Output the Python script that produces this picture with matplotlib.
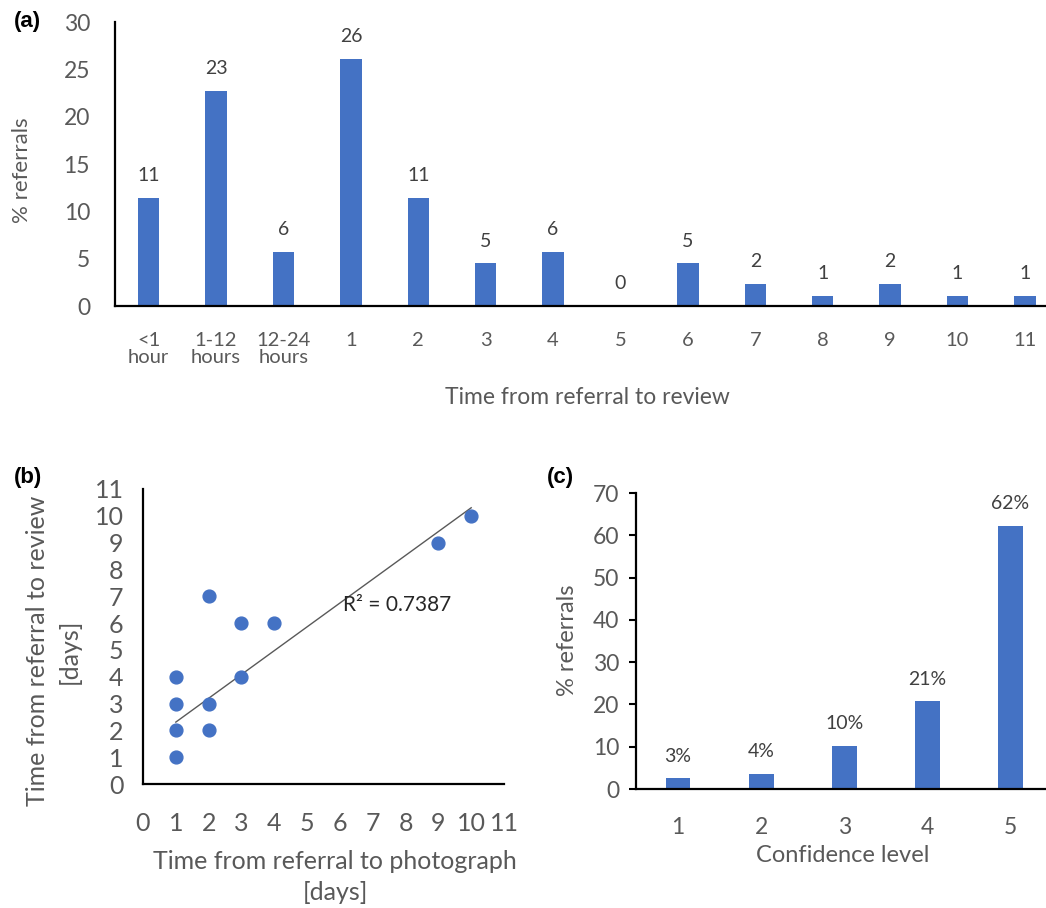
import numpy as np
import matplotlib
matplotlib.use("Agg")
import matplotlib.pyplot as plt

# ---------------------------------------------------------------------------
# Data
# ---------------------------------------------------------------------------
REVIEW_CATS = ["<1\nhour", "1-12\nhours", "12-24\nhours", "1", "2", "3", "4",
               "5", "6", "7", "8", "9", "10", "11"]
REVIEW_PCT = [11.4, 22.7, 5.7, 26.1, 11.4, 4.5, 5.7, 0.0, 4.5, 2.3, 1.1, 2.3, 1.1, 1.1]
REVIEW_LABELS = ["11", "23", "6", "26", "11", "5", "6", "0", "5", "2", "1", "2", "1", "1"]

PHOTO_DAYS = [1, 1, 1, 1, 2, 2, 2, 3, 3, 4, 9, 10]
REVIEW_DAYS = [1, 2, 3, 4, 2, 3, 7, 4, 6, 6, 9, 10]
TREND_SLOPE = 0.888
TREND_INTERCEPT = 1.42
TREND_RANGE = [1, 10]
R2_TEXT = "R² = 0.7387"

CONF_LEVELS = ["1", "2", "3", "4", "5"]
CONF_PCT = [2.5, 3.6, 10.2, 20.7, 62.3]
CONF_LABELS = ["3%", "4%", "10%", "21%", "62%"]

# ---------------------------------------------------------------------------
# Style
# ---------------------------------------------------------------------------
BAR_COLOR = "#4472C4"
TICK_COLOR = "#595959"
LABEL_COLOR = "#404040"
W, H = 1046, 908

plt.rcParams["font.family"] = ["Lato", "DejaVu Sans"]

fig = plt.figure(figsize=(W / 100, H / 100), dpi=100)


def px_axes(l, t, r, b):
    """Add axes from pixel box (left, top, right, bottom)."""
    return fig.add_axes([l / W, 1 - b / H, (r - l) / W, (b - t) / H])


def px_text(x, y, s, **kw):
    return fig.text(x / W, 1 - y / H, s, **kw)


def excel_axes(ax):
    for side in ("top", "right"):
        ax.spines[side].set_visible(False)
    for side in ("left", "bottom"):
        ax.spines[side].set_linewidth(1.6)
        ax.spines[side].set_color("black")


# ---------------------------------------------------------------------------
# (a) time from referral to review
# ---------------------------------------------------------------------------
ax_a = px_axes(115, 22, 1046, 306)
excel_axes(ax_a)
x = np.arange(len(REVIEW_CATS))
ax_a.bar(x, REVIEW_PCT, width=0.32, color=BAR_COLOR)
for xi, v, lab in zip(x, REVIEW_PCT, REVIEW_LABELS):
    ax_a.annotate(lab, (xi, v), xytext=(0, 10), textcoords="offset points",
                  ha="center", va="bottom", fontsize=14, color=LABEL_COLOR)
ax_a.set_ylim(0, 30)
ax_a.set_xlim(-0.5, -0.5 + (1046 - 115) / 67.4)
ax_a.set_yticks(range(0, 31, 5))
ax_a.set_xticks(x)
ax_a.set_xticklabels(REVIEW_CATS, linespacing=1.0)
ax_a.tick_params(axis="y", length=0, pad=18, labelsize=16.5, labelcolor=TICK_COLOR)
ax_a.tick_params(axis="x", length=0, pad=19, labelsize=14.5, labelcolor=TICK_COLOR)
px_text(22, 170, "% referrals", rotation=90, ha="center", va="center",
        fontsize=16, color=TICK_COLOR)
px_text(587, 398, "Time from referral to review", ha="center", va="center",
        fontsize=16.5, color=TICK_COLOR)

# ---------------------------------------------------------------------------
# (b) photograph vs review scatter
# ---------------------------------------------------------------------------
ax_b = px_axes(143, 489, 504, 784)
excel_axes(ax_b)
ax_b.scatter(PHOTO_DAYS, REVIEW_DAYS, s=85, color=BAR_COLOR, zorder=3)
tx = np.array(TREND_RANGE, dtype=float)
ax_b.plot(tx, TREND_SLOPE * tx + TREND_INTERCEPT, color="#595959", lw=1.0)
ax_b.text(6.1, 6.68, R2_TEXT, ha="left", va="center", fontsize=15, color="#262626")
ax_b.set_xlim(0, 11)
ax_b.set_ylim(0, 11)
ax_b.set_xticks(range(0, 12))
ax_b.set_yticks(range(0, 12))
ax_b.tick_params(length=0, labelsize=18, labelcolor=TICK_COLOR)
ax_b.tick_params(axis="x", pad=20)
ax_b.tick_params(axis="y", pad=14)
px_text(53, 651, "Time from referral to review\n[days]", rotation=90,
        ha="center", va="center", fontsize=18, color=TICK_COLOR, linespacing=1.45)
px_text(335, 877, "Time from referral to photograph\n[days]", ha="center",
        va="center", fontsize=18, color=TICK_COLOR, linespacing=1.4)

# ---------------------------------------------------------------------------
# (c) confidence level
# ---------------------------------------------------------------------------
ax_c = px_axes(636, 493, 1046, 789)
excel_axes(ax_c)
xc = np.arange(1, len(CONF_LEVELS) + 1)
ax_c.bar(xc, CONF_PCT, width=0.3, color=BAR_COLOR)
for xi, v, lab in zip(xc, CONF_PCT, CONF_LABELS):
    ax_c.annotate(lab, (xi, v), xytext=(0, 10), textcoords="offset points",
                  ha="center", va="bottom", fontsize=14, color=LABEL_COLOR)
ax_c.set_ylim(0, 70)
ax_c.set_xlim(0.494, 5.43)
ax_c.set_yticks(range(0, 71, 10))
ax_c.set_xticks(xc)
ax_c.set_xticklabels(CONF_LEVELS)
ax_c.tick_params(axis="y", direction="out", length=5, width=1.5, pad=7,
                 labelsize=16.5, labelcolor=TICK_COLOR)
ax_c.tick_params(axis="x", length=0, pad=20, labelsize=16.5, labelcolor=TICK_COLOR)
px_text(568, 640, "% referrals", rotation=90, ha="center", va="center",
        fontsize=17, color=TICK_COLOR)
px_text(843, 855, "Confidence level", ha="center", va="center",
        fontsize=17, color=TICK_COLOR)

# panel tags
for (px, py, tag) in [(14, 22, "(a)"), (14, 477, "(b)"), (547, 477, "(c)")]:
    px_text(px, py, tag, ha="left", va="center", fontsize=16,
            fontweight="bold", family="Liberation Sans", color="black")

fig.savefig("out.png", dpi=100)
